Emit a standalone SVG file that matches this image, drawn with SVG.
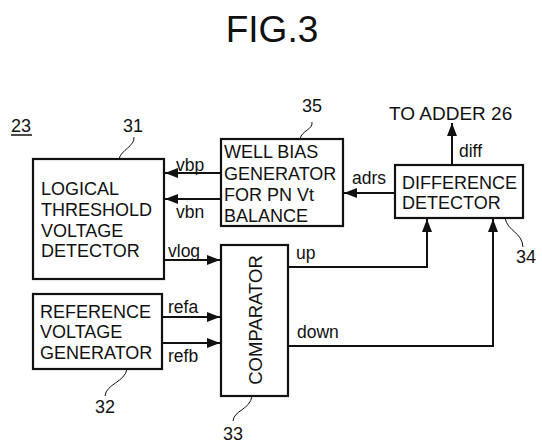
<svg xmlns="http://www.w3.org/2000/svg" width="542" height="446" viewBox="0 0 542 446">
<defs>
<style>
text{font-family:"Liberation Sans",Arial,sans-serif;fill:#111}
.box{fill:#fff;stroke:#111;stroke-width:2.2}
.t{font-size:18px}
.s{font-size:17.5px}
.n{font-size:18px}
.w{fill:none;stroke:#111;stroke-width:2}
.ld{fill:none;stroke:#111;stroke-width:1}
</style>
<marker id="ah" markerUnits="userSpaceOnUse" markerWidth="14" markerHeight="12" refX="13" refY="6" orient="auto">
<path d="M0,1 L13,6 L0,11 Z" fill="#111"/>
</marker>
</defs>
<rect width="542" height="446" fill="#fff"/>
<text x="272" y="42" text-anchor="middle" style="font-size:37px">FIG.3</text>
<g id="label23">
<text x="11" y="132" class="n">23</text>
<line x1="11" y1="135" x2="32" y2="135" stroke="#111" stroke-width="1.5"/>
</g>
<g id="connectors">
<line class="w" x1="221" y1="173" x2="165" y2="173" marker-end="url(#ah)"/>
<line class="w" x1="221" y1="199" x2="165" y2="199" marker-end="url(#ah)"/>
<line class="w" x1="164" y1="260" x2="220" y2="260" marker-end="url(#ah)"/>
<line class="w" x1="162" y1="317" x2="220" y2="317" marker-end="url(#ah)"/>
<line class="w" x1="162" y1="343" x2="220" y2="343" marker-end="url(#ah)"/>
<line class="w" x1="395" y1="193" x2="344" y2="193" marker-end="url(#ah)"/>
<line class="w" x1="452" y1="165" x2="452" y2="123" marker-end="url(#ah)"/>
<polyline class="w" points="288,267 427,267 427,219" marker-end="url(#ah)"/>
<polyline class="w" points="288,346 493,346 493,219" marker-end="url(#ah)"/>
<text x="176" y="171" class="s">vbp</text>
<text x="176" y="218" class="s">vbn</text>
<text x="168" y="257" class="s">vlog</text>
<text x="168" y="313" class="s">refa</text>
<text x="168" y="362" class="s">refb</text>
<text x="352" y="184" class="s">adrs</text>
<text x="459" y="157" class="s">diff</text>
<text x="296" y="259" class="s">up</text>
<text x="297" y="338" class="s">down</text>
<text x="389" y="120" style="font-size:19px">TO ADDER 26</text>
</g>
<g id="n31">
<rect class="box" x="33" y="159" width="131" height="120"/>
<text x="41" y="195" class="t">LOGICAL</text>
<text x="41" y="216" class="t">THRESHOLD</text>
<text x="41" y="237" class="t">VOLTAGE</text>
<text x="41" y="257" class="t">DETECTOR</text>
<path class="ld" d="M119,159 C121,150 135,146 134,137"/>
<text x="123" y="132" class="n">31</text>
</g>
<g id="n35">
<rect class="box" x="221" y="139" width="122" height="87"/>
<text x="224" y="158" class="t">WELL BIAS</text>
<text x="224" y="180" class="t">GENERATOR</text>
<text x="224" y="201" class="t">FOR PN Vt</text>
<text x="224" y="222" class="t">BALANCE</text>
<path class="ld" d="M300,139 C302,130 313,130 312,122"/>
<text x="302" y="112" class="n">35</text>
</g>
<g id="n34">
<rect class="box" x="395" y="165" width="128" height="53"/>
<text x="402" y="189" class="t">DIFFERENCE</text>
<text x="402" y="209" class="t">DETECTOR</text>
<path class="ld" d="M505,218 C508,232 522,232 523,247"/>
<text x="516" y="263" class="n">34</text>
</g>
<g id="n32">
<rect class="box" x="33" y="294" width="129" height="75"/>
<text x="40" y="318" class="t">REFERENCE</text>
<text x="40" y="338" class="t">VOLTAGE</text>
<text x="40" y="359" class="t">GENERATOR</text>
<path class="ld" d="M127,369 C125,382 106,384 105,396"/>
<text x="95" y="413" class="n">32</text>
</g>
<g id="n33">
<rect class="box" x="221" y="245" width="67" height="151"/>
<text transform="translate(262,320) rotate(-90)" text-anchor="middle" style="font-size:18.5px">COMPARATOR</text>
<path class="ld" d="M252,396 C250,410 234,410 233,421"/>
<text x="223" y="440" class="n">33</text>
</g>
</svg>
